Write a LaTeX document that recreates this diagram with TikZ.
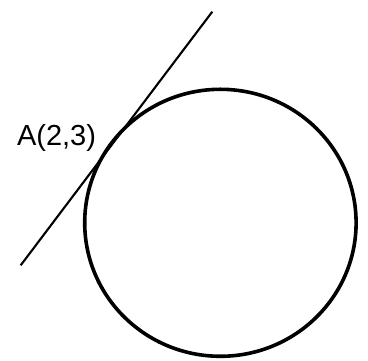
\documentclass[tikz,border=0pt]{standalone}
\usepackage{fontspec}
\setmainfont{Liberation Sans}
\begin{document}
\begin{tikzpicture}[x=1pt,y=1pt,
  circ/.style={line width=3.6pt},
  tline/.style={line width=2.1pt},
  lbl/.style={font=\fontsize{29}{34}\selectfont, inner sep=0pt, anchor=base}]
\useasboundingbox (0,0) rectangle (368,361);
\coordinate (O) at (220.4,138.2);
\coordinate (P1) at (20.7,95.7);
\coordinate (P2) at (212.3,349.3);
\draw[circ] (O) ellipse [x radius=135.7, y radius=133.5];
\draw[tline] (P1) -- (P2);
\node[lbl] (A) at (56.5,215) {A(2,3)};
\end{tikzpicture}
\end{document}
